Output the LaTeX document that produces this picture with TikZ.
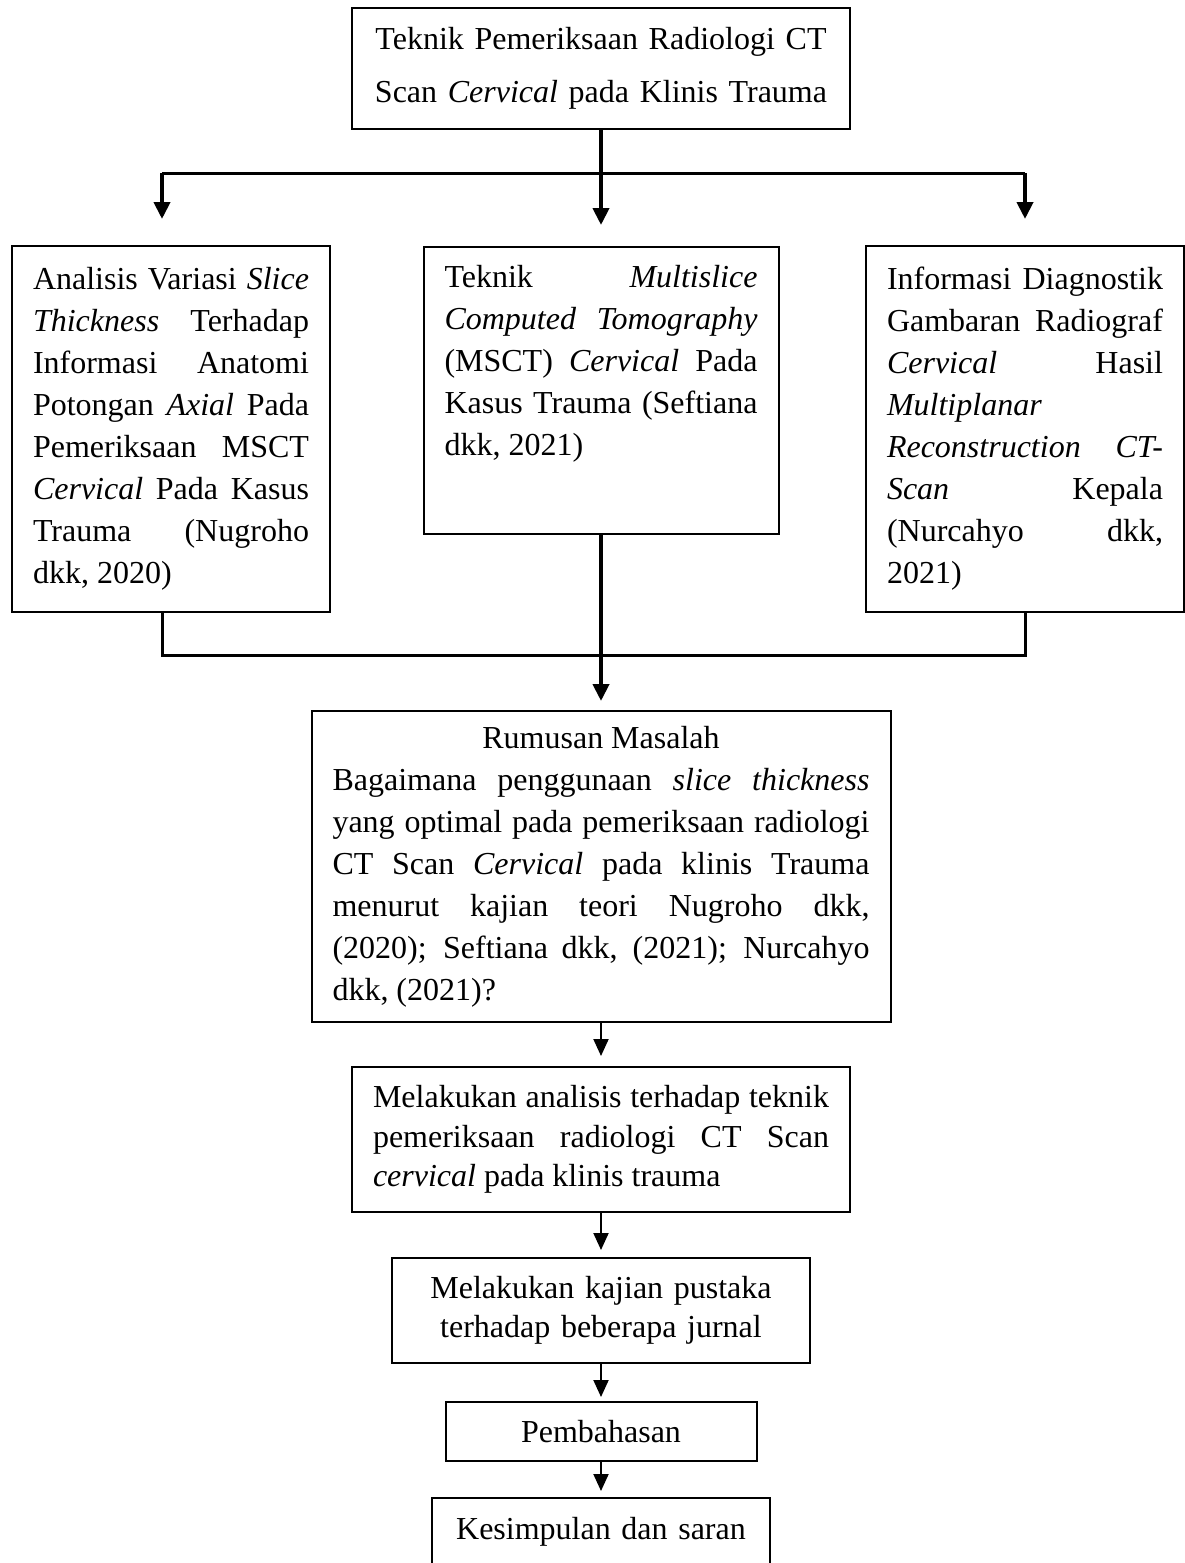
\documentclass[tikz,border=0pt]{standalone}
\usepackage{fontspec}
\setmainfont{Liberation Serif}
\usetikzlibrary{arrows.meta}
\tolerance=10000
\hbadness=10000
\hyphenpenalty=10000

\tikzset{
  box/.style={draw, line width=1pt, inner xsep=10.5pt, inner ysep=0pt,
    font=\fontsize{16}{21}\selectfont, align=justify},
  arrthick/.style={line width=2pt, -{Triangle[length=8.5pt,width=8pt]}},
  arrthin/.style={line width=1pt, -{Triangle[length=8.5pt,width=7.5pt]}},
  bus/.style={line width=1.5pt},
}

\begin{document}
\begin{tikzpicture}[x=0.5pt,y=-0.5pt]
      \useasboundingbox (0,0) rectangle (1184,1563);

      \node (top) [box, align=center, text width=228pt, minimum height=60.5pt,
        font=\fontsize{16}{26.5}\selectfont] at (601,68.5)
        {Teknik Pemeriksaan Radiologi CT\\ Scan \textit{Cervical} pada Klinis Trauma};

      \node (left) [box, text width=138pt, minimum height=183pt] at (171,429)
        {Analisis Variasi \textit{Slice}\linebreak \textit{Thickness} Terhadap\linebreak
         Informasi Anatomi\linebreak Potongan \textit{Axial} Pada\linebreak
         Pemeriksaan MSCT\linebreak \textit{Cervical} Pada Kasus\linebreak
         Trauma (Nugroho\linebreak dkk, 2020)};
      \node (mid) [box, text width=156.5pt, text height=20.25pt, text depth=123.25pt,
        anchor=north] at (601,246)
        {Teknik \textit{Multislice}\linebreak \textit{Computed Tomography}\linebreak
         (MSCT) \textit{Cervical} Pada\linebreak Kasus Trauma (Seftiana\linebreak dkk, 2021)};
      \node (right) [box, text width=138pt, minimum height=183pt] at (1025,429)
        {Informasi Diagnostik\linebreak Gambaran Radiograf\linebreak
         \textit{Cervical} Hasil\linebreak \textit{Multiplanar}\linebreak
         \textit{Reconstruction CT-}\linebreak \textit{Scan} Kepala\linebreak
         (Nurcahyo dkk,\linebreak 2021)};

      \node (rum) [box, text width=268.5pt, minimum height=155.5pt] at (601,866.5)
        {{\centering Rumusan Masalah\par}
         Bagaimana penggunaan \textit{slice thickness}\linebreak
         yang optimal pada pemeriksaan radiologi\linebreak
         CT Scan \textit{Cervical} pada klinis Trauma\linebreak
         menurut kajian teori Nugroho dkk,\linebreak
         (2020); Seftiana dkk, (2021); Nurcahyo\linebreak dkk, (2021)?};
      \node (mel) [box, text width=228pt, minimum height=72.5pt,
        font=\fontsize{16}{19.75}\selectfont] at (601,1139.5)
        {Melakukan analisis terhadap teknik\linebreak
         pemeriksaan radiologi CT Scan\linebreak \textit{cervical} pada klinis trauma};
      \node (kaj) [box, align=center, text width=188pt, minimum height=52.5pt,
        font=\fontsize{16}{19.5}\selectfont] at (601,1310.5)
        {Melakukan kajian pustaka\\ terhadap beberapa jurnal};
      \node (pem) [box, align=center, text width=134.5pt, minimum height=29.5pt]
        at (601,1431.5) {Pembahasan};
      \node (kes) [box, align=center, text width=148pt, text height=20.75pt,
        text depth=24.25pt, anchor=north] at (601,1497) {Kesimpulan dan saran};

      % cabang atas
      \coordinate (jl) at (162,173);
      \coordinate (jr) at (1025,173);
      \draw [bus] (jl) -- (jr);
      \draw [arrthick, shorten >=10.5pt] (top) -- (mid);
      \draw [arrthick, shorten >=13pt] (jl) -- (jl |- left.north);
      \draw [arrthick, shorten >=13pt] (jr) -- (jr |- right.north);

      % cabang bawah
      \coordinate (kl) at (162,655);
      \coordinate (kr) at (1025,655);
      \draw [bus] (kl |- left.south) -- (kl) -- (kr) -- (kr |- right.south);
      \draw [arrthick, shorten >=4.5pt] (mid) -- (rum);

      \draw [arrthin, shorten >=5pt] (rum) -- (mel);
      \draw [arrthin, shorten >=3.5pt] (mel) -- (kaj);
      \draw [arrthin, shorten >=2pt] (kaj) -- (pem);
      \draw [arrthin, shorten >=3pt] (pem) -- (kes);
    \end{tikzpicture}
\end{document}
